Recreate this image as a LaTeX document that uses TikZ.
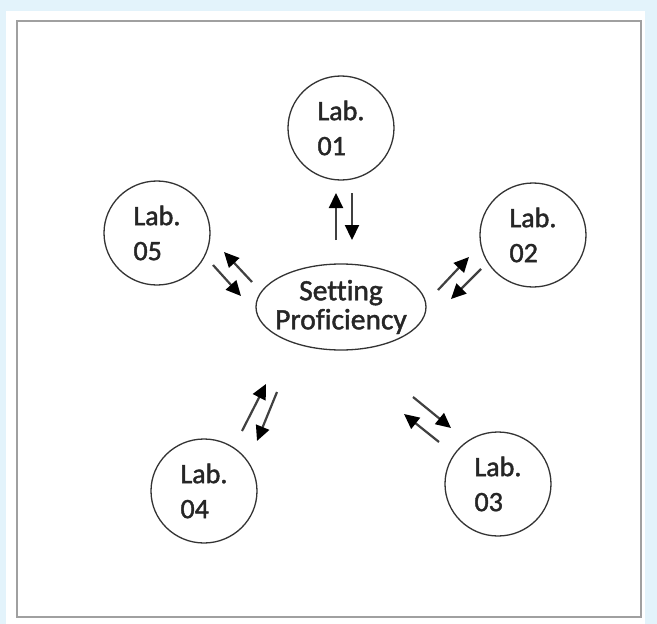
\documentclass[tikz,border=0pt]{standalone}
\usepackage{fontspec}
\setmainfont{Carlito}[Ligatures=NoCommon,FakeBold=1.5]
\usetikzlibrary{arrows.meta,shapes.geometric}
\definecolor{bgblue}{HTML}{E3F3FB}
\definecolor{framegray}{HTML}{A0A0A0}
\definecolor{txt}{HTML}{262626}
\begin{document}
\begin{tikzpicture}[x=1pt,y=-1pt,
  lab/.style={draw=black!80, line width=1.3pt, ellipse, minimum width=106pt, minimum height=104pt, inner sep=0pt,
    align=left, text=txt, font=\fontsize{28}{35}\selectfont},
  hub/.style={draw=black!80, line width=1.3pt, ellipse, minimum width=170pt, minimum height=86pt,
    inner xsep=-10pt, inner ysep=-6pt,
    align=center, text=txt, font=\fontsize{29.5}{29}\selectfont},
  flow/.style={draw=black!75, line width=2.2pt, -{Triangle[length=15pt,width=14pt,fill=black,color=black]}}
]
\useasboundingbox (0,0) rectangle (657,624);
\fill[bgblue] (0,0) rectangle (657,624);
\fill[white] (6,11) rectangle (645,624);
\draw[framegray, line width=1.5pt] (17,21) rectangle (641,617);

\node[hub] (c) at (341,307) {Setting\\Proficiency};
\node[lab] (l1) at (341,128) {Lab.\\01};
\node[lab] (l2) at (533,235) {Lab.\\02};
\node[lab] (l3) at (498,484) {Lab.\\03};
\node[lab] (l4) at (204,491) {Lab.\\04};
\node[lab] (l5) at (157,233) {Lab.\\05};

% Lab 01
\coordinate (a1s) at (336,240); \coordinate (a1e) at (336,193);
\coordinate (b1s) at (352,193); \coordinate (b1e) at (352,240);
% Lab 02
\coordinate (a2s) at (438,290); \coordinate (a2e) at (469,257);
\coordinate (b2s) at (481,269); \coordinate (b2e) at (451,299);
% Lab 03
\coordinate (a3s) at (413,397); \coordinate (a3e) at (451,428);
\coordinate (b3s) at (439,442); \coordinate (b3e) at (404,414);
% Lab 04
\coordinate (a4s) at (242,431); \coordinate (a4e) at (266,384);
\coordinate (b4s) at (277,392); \coordinate (b4e) at (257,441);
% Lab 05
\coordinate (a5s) at (252,282); \coordinate (a5e) at (224,252);
\coordinate (b5s) at (213,265); \coordinate (b5e) at (241,296);

\foreach \i in {1,...,5}{
  \draw[flow] (a\i s) -- (a\i e);
  \draw[flow] (b\i s) -- (b\i e);
}
\end{tikzpicture}
\end{document}
